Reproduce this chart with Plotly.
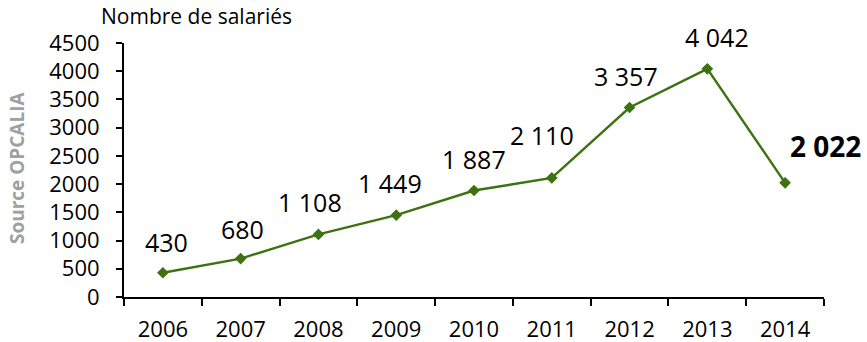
import plotly.graph_objects as go

years = ["2006", "2007", "2008", "2009", "2010", "2011", "2012", "2013", "2014"]
salaries = [430, 680, 1108, 1449, 1887, 2110, 3357, 4042, 2022]
labels = ["430", "680", "1 108", "1 449", "1 887", "2 110", "3 357", "4 042", "2 022"]
y_ticks = [0, 500, 1000, 1500, 2000, 2500, 3000, 3500, 4000, 4500]

# label offsets (pixels) – styling only
label_dx = [4, 2, -8, -6, 0, -10, -4, 10, 40]
label_dy = [31, 30, 32, 32, 31, 43, 32, 32, 37]

GREEN = "#3E7210"
FONT = "Open Sans"

fig = go.Figure()
fig.add_trace(go.Scatter(
    x=years, y=salaries, mode="lines+markers",
    line=dict(color=GREEN, width=2.4),
    marker=dict(symbol="diamond", size=9, color=GREEN),
    hoverinfo="x+y", showlegend=False,
))

for i, (v, lab) in enumerate(zip(salaries, labels)):
    last = i == len(salaries) - 1
    fig.add_annotation(
        x=i, y=v, xref="x", yref="y",
        text=f"<b>{lab}</b>" if last else lab,
        showarrow=False, xanchor="center", yanchor="middle",
        xshift=label_dx[i], yshift=label_dy[i],
        font=dict(family=FONT, size=28 if last else 25, color="black"),
    )

fig.add_annotation(
    xref="paper", yref="paper", x=0.103, y=1.0, yshift=27,
    xanchor="center", yanchor="middle", text="Nombre de salariés",
    showarrow=False, font=dict(family=FONT, size=21, color="black"),
)
fig.add_annotation(
    xref="paper", yref="paper", x=-0.152, y=0.51,
    xanchor="center", yanchor="middle", text="<b>Source OPCALIA</b>",
    textangle=-90, showarrow=False,
    font=dict(family=FONT, size=19, color="#A0A0A0"),
)

fig.update_layout(
    width=867, height=342,
    margin=dict(l=124, r=43, t=43, b=44.5, autoexpand=False),
    paper_bgcolor="white", plot_bgcolor="white",
    font=dict(family=FONT, size=22, color="black"),
)
fig.update_xaxes(
    type="category", range=[-0.5, 8.5], automargin=False,
    showline=True, linecolor="black", linewidth=2,
    ticks="outside", tickson="boundaries", ticklen=7, tickwidth=2, tickcolor="black",
    showgrid=False, zeroline=False, ticklabelstandoff=12,
    tickfont=dict(family=FONT, size=22, color="black"),
)
fig.update_yaxes(
    range=[0, 4500], tickvals=y_ticks, automargin=False,
    showline=True, linecolor="black", linewidth=2,
    ticks="outside", ticklen=6, tickwidth=2, tickcolor="black",
    showgrid=False, zeroline=False, ticklabelstandoff=12,
    tickfont=dict(family=FONT, size=22, color="black"),
)

fig.write_html("out.html", config={"displayModeBar": False},
               post_script="document.body.style.margin='0';")
